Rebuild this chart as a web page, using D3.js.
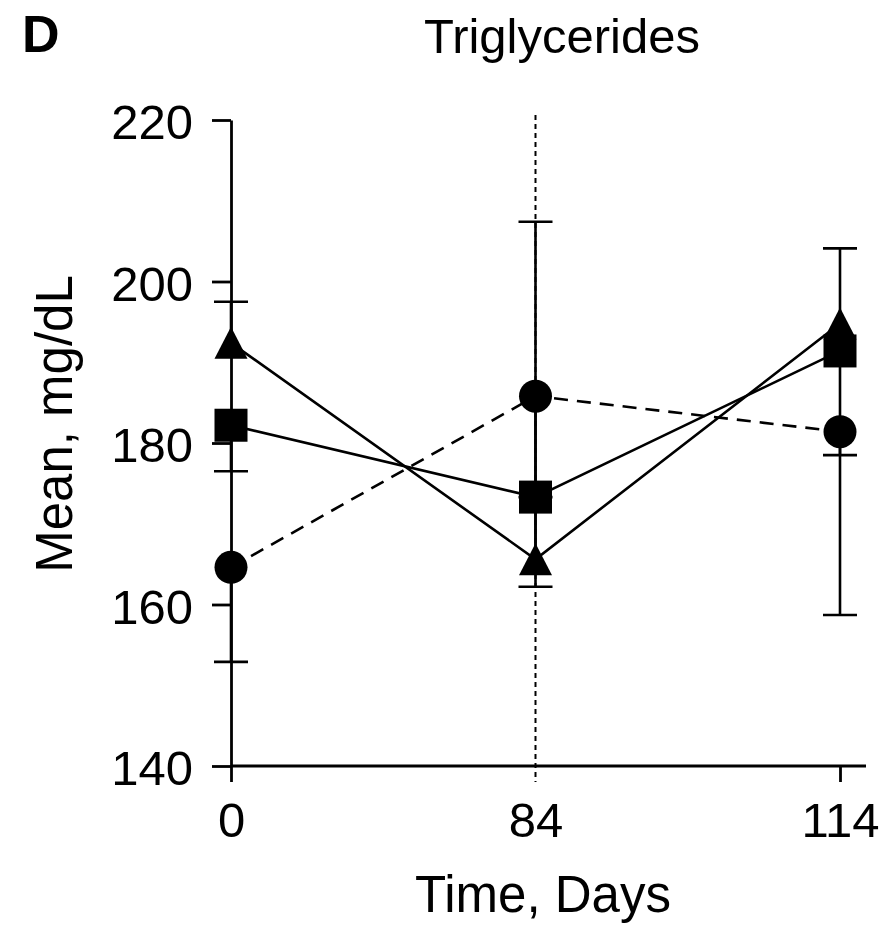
<!DOCTYPE html>
<html>
<head>
<meta charset="utf-8">
<script src="https://cdn.jsdelivr.net/npm/d3@7"></script>
<style>
  body { margin: 0; background: #fff; }
  text { font-family: "Liberation Sans", Arial, sans-serif; fill: #000; }
</style>
</head>
<body>
<div id="chart"></div>
<script>
// values (mean and one-sided error bar)
var days = ["0", "84", "114"];
var yTicks = [140, 160, 180, 200, 220];

var circleMean = [164.6, 185.8, 181.4];
var circleErr = [11.7, 12.5, 22.7];     // drawn below
var squareMean = [182.2, 173.3, 191.4];
var squareErr = [5.7, 11.1, 12.9];      // drawn below
var triangleMean = [192.4, 165.6, 194.8];
var triangleErr = [5.1, 41.8, 9.3];     // drawn above

var width = 888, height = 925;
var fontSize = 49;
var lw = 2.6;

var svg = d3.select("#chart").append("svg")
  .attr("width", width)
  .attr("height", height);

var x = d3.scalePoint().domain(days).range([231, 840]);
var y = d3.scaleLinear().domain([140, 220]).range([766, 120]);

var series = [
  {mean: circleMean, err: circleErr, dir: -1, dash: "14,9", shape: "circle"},
  {mean: squareMean, err: squareErr, dir: -1, dash: null, shape: "square"},
  {mean: triangleMean, err: triangleErr, dir: 1, dash: null, shape: "triangle"}
];

// dotted reference line at day 84
svg.append("line")
  .attr("x1", x("84")).attr("x2", x("84"))
  .attr("y1", y(220) - 5).attr("y2", y(140) + 16)
  .style("stroke", "#000")
  .style("stroke-width", 2)
  .style("stroke-dasharray", "5,4");

// y axis
var yAxis = svg.append("g")
  .attr("transform", "translate(" + x("0") + ",0)")
  .call(d3.axisLeft(y).tickValues(yTicks).tickSize(19).tickSizeOuter(0).tickPadding(19));
yAxis.selectAll("path, line").style("stroke", "#000").style("stroke-width", 2.8);
yAxis.selectAll("text")
  .style("font-size", fontSize + "px")
  .attr("dy", "0.38em");

// x axis
var xAxis = svg.append("g")
  .attr("transform", "translate(0," + y(140) + ")")
  .call(d3.axisBottom(x).tickSize(16).tickPadding(20));
xAxis.select(".domain").remove();
xAxis.selectAll(".tick line")
  .style("stroke", "#000").style("stroke-width", 2.8)
  .style("display", function(d) { return d == "84" ? "none" : null; });
xAxis.selectAll("text").style("font-size", fontSize + "px");
xAxis.append("line")
  .attr("x1", x("0")).attr("x2", x("114") + 26)
  .attr("y1", 0).attr("y2", 0)
  .style("stroke", "#000").style("stroke-width", 2.8);

// error bars (one direction per group)
var capHalf = 17;
series.forEach(function(s) {
  var g = svg.append("g");
  s.mean.forEach(function(m, i) {
    var cx = x(days[i]);
    var end = y(m + s.dir * s.err[i]);
    g.append("line").attr("x1", cx).attr("x2", cx).attr("y1", y(m)).attr("y2", end);
    g.append("line").attr("x1", cx - capHalf).attr("x2", cx + capHalf).attr("y1", end).attr("y2", end);
  });
  g.selectAll("line").style("stroke", "#000").style("stroke-width", lw);
});

// connecting lines
var line = d3.line()
  .x(function(d, i) { return x(days[i]); })
  .y(function(d) { return y(d); });

series.forEach(function(s) {
  svg.append("path")
    .datum(s.mean)
    .attr("d", line)
    .style("fill", "none")
    .style("stroke", "#000")
    .style("stroke-width", lw)
    .style("stroke-dasharray", s.dash);
});

// markers
series.forEach(function(s) {
  var pts = svg.append("g").selectAll("g")
    .data(s.mean)
    .enter()
    .append("g")
    .attr("transform", function(d, i) { return "translate(" + x(days[i]) + "," + y(d) + ")"; });
  if (s.shape == "circle") {
    pts.append("circle").attr("r", 16.5).style("fill", "#000");
  } else if (s.shape == "square") {
    pts.append("rect").attr("x", -16.5).attr("y", -16.5).attr("width", 33).attr("height", 33).style("fill", "#000");
  } else {
    pts.append("path").attr("d", "M0,-16L16.5,16L-16.5,16Z").style("fill", "#000");
  }
});

// titles
svg.append("text")
  .attr("x", 22).attr("y", 52)
  .style("font-size", "52px")
  .style("font-weight", "bold")
  .text("D");

svg.append("text")
  .attr("x", 562).attr("y", 53)
  .style("text-anchor", "middle")
  .style("font-size", fontSize + "px")
  .text("Triglycerides");

svg.append("text")
  .attr("x", 543).attr("y", 912)
  .style("text-anchor", "middle")
  .style("font-size", "51px")
  .text("Time, Days");

svg.append("text")
  .attr("transform", "translate(72,424) rotate(-90)")
  .style("text-anchor", "middle")
  .style("font-size", "51px")
  .text("Mean, mg/dL");
</script>
</body>
</html>
